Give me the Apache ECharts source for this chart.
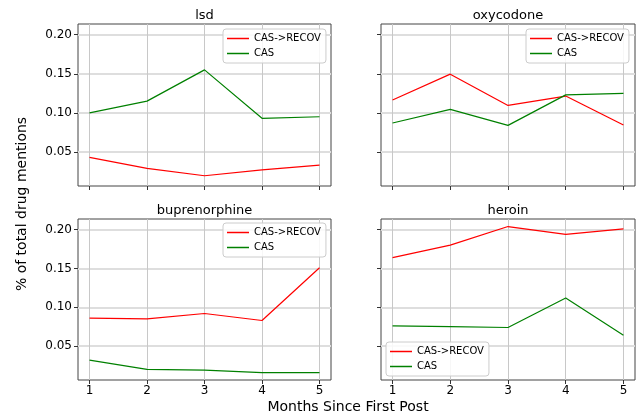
<!DOCTYPE html>
<html>
<head>
<meta charset="utf-8">
<script src="https://cdn.jsdelivr.net/npm/echarts@6/dist/echarts.min.js"></script>
<style>html,body{margin:0;padding:0;background:#fff}#c{width:636px;height:414px}</style>
</head>
<body>
<div id="c"></div>
<script>
const months = [1, 2, 3, 4, 5];
const xTicks = [1, 2, 3, 4, 5];
const yTicks = [0.05, 0.10, 0.15, 0.20];
const panelTitles = ['lsd', 'oxycodone', 'buprenorphine', 'heroin'];
const seriesNames = ['CAS->RECOV', 'CAS'];
const lsdRecov = [0.043, 0.029, 0.0195, 0.027, 0.033];
const lsdCas = [0.100, 0.115, 0.155, 0.093, 0.095];
const oxyRecov = [0.1165, 0.1495, 0.1095, 0.1215, 0.0845];
const oxyCas = [0.087, 0.1045, 0.084, 0.123, 0.125];
const bupRecov = [0.086, 0.085, 0.092, 0.083, 0.151];
const bupCas = [0.032, 0.020, 0.019, 0.016, 0.016];
const herRecov = [0.164, 0.180, 0.204, 0.194, 0.201];
const herCas = [0.076, 0.075, 0.074, 0.112, 0.064];

const recovData = [lsdRecov, oxyRecov, bupRecov, herRecov];
const casData = [lsdCas, oxyCas, bupCas, herCas];

const FONT = 'DejaVu Sans';
const grids = [
  {left: 78, top: 24, width: 253, height: 162},
  {left: 381, top: 24, width: 254, height: 162},
  {left: 78, top: 219, width: 253, height: 161},
  {left: 381, top: 219, width: 254, height: 161}
];
const legendPos = [
  {left: 223, top: 29},
  {left: 526, top: 29},
  {left: 223, top: 223},
  {left: 386, top: 342}
];

const option = {
  animation: false,
  backgroundColor: '#fff',
  grid: grids.map(g => Object.assign({show: true, borderColor: '#444', borderWidth: 1, backgroundColor: 'transparent'}, g)),
  title: panelTitles.map((t, i) => ({
    text: t,
    left: grids[i].left + grids[i].width / 2,
    top: grids[i].top - 15,
    textAlign: 'center',
    padding: 0,
    textStyle: {fontFamily: FONT, fontSize: 13, fontWeight: 'normal', color: '#000'}
  })),
  legend: legendPos.map((p, i) => ({
    left: p.left, top: p.top,
    orient: 'vertical',
    data: seriesNames,
    icon: 'rect',
    itemWidth: 22, itemHeight: 1.5,
    itemGap: 4,
    padding: [4, 5, 4, 4],
    borderColor: '#cccccc', borderWidth: 1, borderRadius: 3,
    backgroundColor: 'rgba(255,255,255,0.85)',
    selectedMode: false,
    textStyle: {fontFamily: FONT, fontSize: 10, color: '#000', lineHeight: 11}
  })),
  xAxis: grids.map((g, i) => ({
    type: 'value', gridIndex: i, min: 0.8, max: 5.2,
    axisLine: {show: false},
    axisTick: {show: true, customValues: xTicks, length: 4, lineStyle: {color: '#333'}},
    axisLabel: {show: i >= 2, customValues: xTicks, fontFamily: FONT, fontSize: 12, color: '#000', margin: 5},
    splitLine: {show: true, lineStyle: {color: '#c8c8c8', width: 1}}
  })),
  yAxis: grids.map((g, i) => ({
    type: 'value', gridIndex: i, min: 0.0064, max: 0.2137,
    axisLine: {show: false},
    axisTick: {show: true, customValues: yTicks, length: 4, lineStyle: {color: '#333'}},
    axisLabel: {show: i % 2 === 0, customValues: yTicks, fontFamily: FONT, fontSize: 12, color: '#000', margin: 6,
      formatter: v => v.toFixed(2)},
    splitLine: {show: true, lineStyle: {color: '#dedede', width: 2}}
  })),
  series: [],
  graphic: [
    {type: 'text', x: 22, y: 204, rotation: Math.PI / 2,
      style: {text: '% of total drug mentions', font: '14px "DejaVu Sans"', fill: '#000', align: 'center', verticalAlign: 'middle'}},
    {type: 'text', x: 348, y: 407,
      style: {text: 'Months Since First Post', font: '14px "DejaVu Sans"', fill: '#000', align: 'center', verticalAlign: 'middle'}}
  ]
};

for (let i = 0; i < 4; i++) {
  option.series.push({
    name: seriesNames[0], type: 'line', xAxisIndex: i, yAxisIndex: i,
    data: months.map((m, k) => [m, recovData[i][k]]),
    showSymbol: false, color: '#ff0000',
    lineStyle: {color: '#ff0000', width: 1.2}
  });
  option.series.push({
    name: seriesNames[1], type: 'line', xAxisIndex: i, yAxisIndex: i,
    data: months.map((m, k) => [m, casData[i][k]]),
    showSymbol: false, color: '#008000',
    lineStyle: {color: '#008000', width: 1.2}
  });
}

const chart = echarts.init(document.getElementById('c'), null, {renderer: 'canvas'});
chart.setOption(option);
</script>
</body>
</html>
